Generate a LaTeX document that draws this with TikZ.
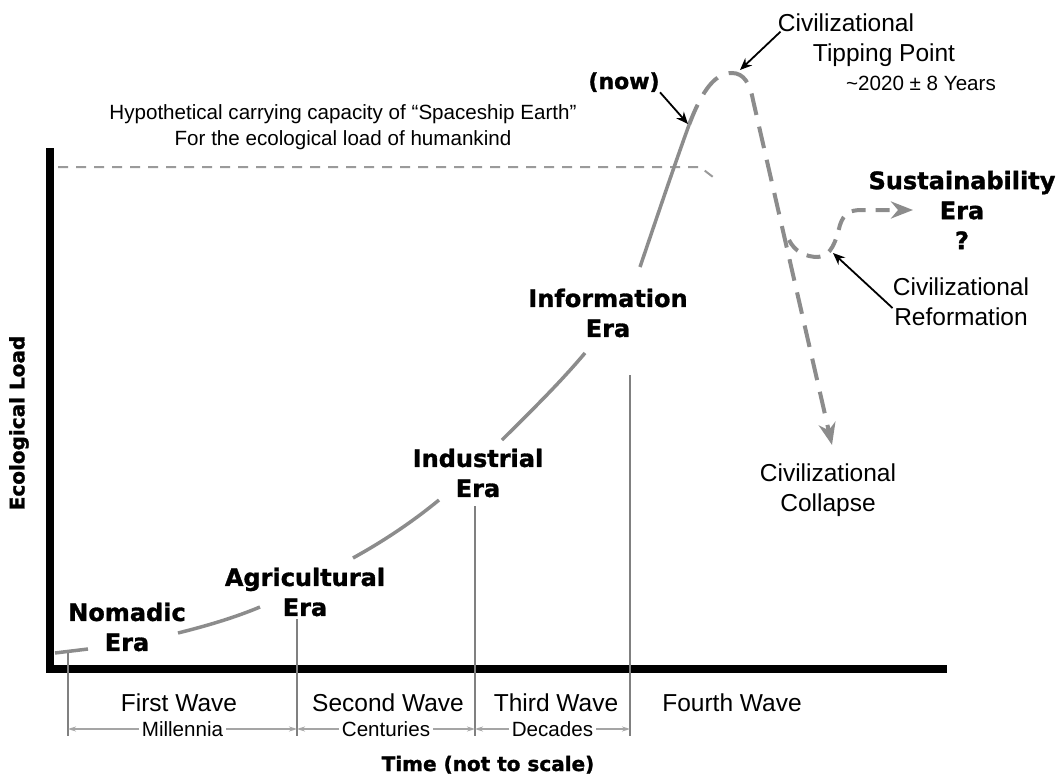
\documentclass[tikz,border=0pt]{standalone}
\usepackage{fontspec}
\setmainfont{Liberation Sans}
\newfontfamily\heavyfont{DejaVu Sans}[BoldFeatures={FakeBold=1.3}]
\usetikzlibrary{arrows.meta}
\definecolor{curvegray}{RGB}{140,140,140}
\definecolor{linegray}{RGB}{128,128,128}
\definecolor{dimgray}{RGB}{165,165,165}

\begin{document}
\begin{tikzpicture}
         [x=0.5pt,y=-0.5pt,every node/.style={inner sep=0pt},
          era/.style={font=\heavyfont\bfseries\fontsize{12}{15}\selectfont,align=center},
          bignote/.style={font=\fontsize{12.25}{15}\selectfont},
          smallnote/.style={font=\fontsize{10.3}{13}\selectfont},
          curve/.style={curvegray,line width=1.75pt},
          dashcurve/.style={curvegray,line width=2pt,dash pattern=on 11pt off 6pt},
          bigtip/.style={-{Stealth[length=11pt,width=8.5pt,inset=3.5pt]}},
          pointer/.style={-{Stealth[length=6pt,width=5pt]},line width=0.9pt},
          wavesep/.style={linegray,line width=0.7pt},
          dimline/.style={dimgray,line width=0.6pt,{Stealth[length=4pt,width=2.5pt]}-{Stealth[length=4pt,width=2.5pt]}},
          dimlabel/.style={smallnote,text=black,fill=white,inner xsep=1.5pt}]
         \useasboundingbox (0,0) rectangle (1062,777);

         % axes
         \draw[line width=4pt] (50,148) -- (50,669) -- (947,669);
         \node[font=\heavyfont\bfseries\fontsize{10}{12}\selectfont,rotate=90] (nLoad) at (19,423) {Ecological Load};
         \node[font=\heavyfont\bfseries\fontsize{10}{12}\selectfont,anchor=base] (nTime) at (488,771) {Time (not to scale)};

         % carrying capacity
         \draw[linegray!80,line width=1pt,dash pattern=on 5pt off 4pt] (58,167) -- (700,167) -- (713,177);
         \node[smallnote,align=center] (nCapacity) at (343,127) {Hypothetical carrying capacity of “Spaceship Earth”\\For the ecological load of humankind};

         % waves
         \foreach \xpos/\ytop/\wname in {68/652/w1,297/619/w2,475/506/w3,630/375/w4}
           {
             \draw[wavesep] (\xpos,\ytop) -- (\xpos,736);
             \coordinate (\wname) at (\xpos,729);
           }
         \node[bignote,anchor=base] (nFirst) at (179,711) {First Wave};
         \node[bignote,anchor=base] (nSecond) at (388,711) {Second Wave};
         \node[bignote,anchor=base] (nThird) at (556,711) {Third Wave};
         \node[bignote,anchor=base] (nFourth) at (732,711) {Fourth Wave};
         \draw[dimline] (w1) -- node[dimlabel] (nMill) {Millennia} (w2);
         \draw[dimline] (w2) -- node[dimlabel] (nCent) {Centuries} (w3);
         \draw[dimline] (w3) -- node[dimlabel] (nDec) {Decades} (w4);

         % eras
         \node[era] (nNomadic) at (127,627) {Nomadic\\Era};
         \node[era] (nAgri) at (305,592) {Agricultural\\Era};
         \node[era] (nIndus) at (478,473) {Industrial\\Era};
         \node[era] (nInfo) at (608,313) {Information\\Era};
         \node[era] (nSustain) at (962,210) {Sustainability\\Era\\?};

         % load curve
         \draw[curve] (55,653) -- (88,649);
         \draw[curve] (178,633) .. controls (210,625) and (236,617) .. (260,607);
         \draw[curve] (353,558) .. controls (382,542) and (411,523) .. (439,500);
         \draw[curve] (502,440) .. controls (530,412) and (558,385) .. (585,353);
         \draw[curve] (640,267) .. controls (656,220) and (672,172) .. (689,125);
         \draw[dashcurve,bigtip] (689,125) .. controls (703,88) and (716,73) .. (732,73)
               .. controls (744,73) and (750,84) .. (753,100) -- (832,445);
         \draw[dashcurve,dash pattern=on 7pt off 5pt,bigtip] (789,240) .. controls (795,252) and (806,257) .. (818,257)
               .. controls (832,256) and (836,240) .. (840,225) .. controls (844,213) and (850,210) .. (862,210) -- (913,210);

         % notes
         \node[font=\heavyfont\bfseries\fontsize{11}{13}\selectfont,anchor=base] (nNow) at (624,89) {(now)};
         \node[bignote,anchor=base] (nTipA) at (846,31) {Civilizational};
         \node[bignote,anchor=base] (nTipB) at (884,61) {Tipping Point};
         \node[smallnote,anchor=base] (nYears) at (921,90) {\textasciitilde 2020 ± 8 Years};
         \node[bignote,align=center] (nReform) at (961,302) {Civilizational\\Reformation};
         \node[bignote,align=center] (nCollapse) at (828,490) {Civilizational\\Collapse};

         \coordinate (pNow) at (688,124);
         \coordinate (pPeak) at (740,70);
         \coordinate (pValley) at (833,253);
         \draw[pointer] (nNow.south east) -- (pNow);
         \draw[pointer] ([xshift=1.5pt]nTipA.south west) -- (pPeak);
         \draw[pointer] ([yshift=-3pt]nReform.west) -- (pValley);

     \end{tikzpicture}
\end{document}
